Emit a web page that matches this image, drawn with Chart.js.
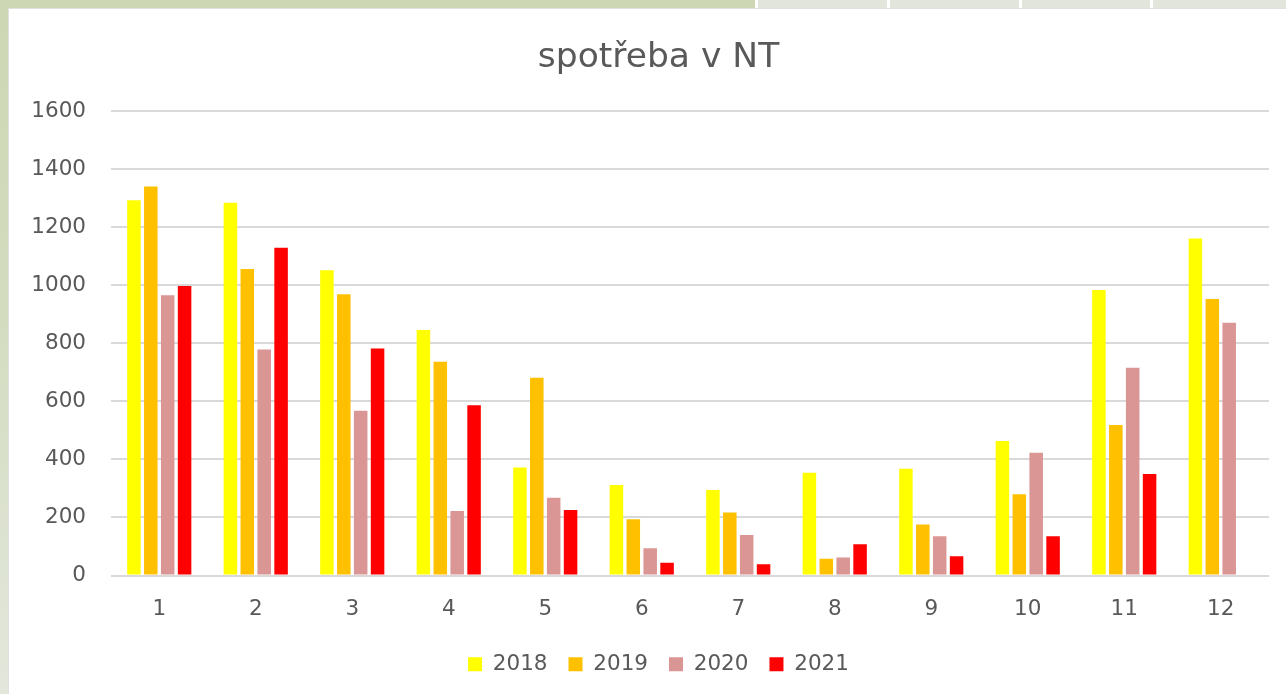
<!DOCTYPE html>
<html>
<head>
<meta charset="utf-8">
<script src="https://cdn.jsdelivr.net/npm/chart.js@4"></script>
<style>
  html, body { margin: 0; padding: 0; width: 1286px; height: 694px; overflow: hidden; background: #ffffff; }
  #leftStrip { position: absolute; left: 0; top: 0; width: 8px; height: 694px;
    background: linear-gradient(to bottom, #cdd7b3 0%, #d3dcbf 45%, #e3e7dc 100%); }
  #topGreen { position: absolute; left: 0; top: 0; width: 755px; height: 8px; background: #cdd7b3; }
  .tab { position: absolute; top: 0; height: 8px; background: #e2e5dc; }
  #panel { position: absolute; left: 8px; top: 8px; width: 1300px; height: 700px; background: #fff;
    border-left: 1px solid #dfe2da; border-top: 1px solid #dfe2da; }
  #wrap { position: absolute; left: 9px; top: 9px; width: 1291px; height: 685px; }
</style>
</head>
<body>
<div id="leftStrip"></div>
<div id="topGreen"></div>
<div class="tab" style="left:758px;width:129px"></div>
<div class="tab" style="left:890px;width:129px"></div>
<div class="tab" style="left:1022px;width:128px"></div>
<div class="tab" style="left:1153px;width:133px"></div>
<div id="panel"></div>
<div id="wrap"><canvas id="c" width="1291" height="685"></canvas></div>
<script>
const months = ['1','2','3','4','5','6','7','8','9','10','11','12'];
const seriesNames = ['2018','2019','2020','2021'];
const v2018 = [1294, 1285, 1052, 846, 372, 312, 295, 354, 368, 464, 984, 1162];
const v2019 = [1341, 1057, 970, 737, 682, 194, 217, 58, 176, 280, 519, 953];
const v2020 = [966, 779, 568, 222, 268, 94, 140, 62, 135, 423, 716, 871];
const v2021 = [998, 1130, 783, 587, 226, 44, 39, 108, 66, 135, 350, null];
const yTicks = [0, 200, 400, 600, 800, 1000, 1200, 1400, 1600];
const colors = ['#FFFF00', '#FFC000', '#DA9694', '#FF0000'];
const titleText = 'spotřeba v NT';

const values = [v2018, v2019, v2020, v2021];
const FONT = "'DejaVu Sans', sans-serif";

new Chart(document.getElementById('c'), {
  type: 'bar',
  data: {
    labels: months,
    datasets: seriesNames.map((n, i) => ({
      label: n,
      data: values[i],
      backgroundColor: colors[i],
      borderWidth: 0,
      categoryPercentage: 0.70,
      barPercentage: 0.80
    }))
  },
  options: {
    responsive: false,
    animation: false,
    devicePixelRatio: 1,
    layout: { padding: { left: 8, right: 0, top: 0, bottom: 9 } },
    plugins: {
      title: {
        display: true,
        text: titleText,
        color: '#595959',
        font: { family: FONT, size: 34.5, weight: 'normal' },
        padding: { top: 28, bottom: 33 }
      },
      legend: {
        position: 'bottom',
        labels: {
          color: '#595959',
          font: { family: FONT, size: 21.5 },
          boxWidth: 14,
          boxHeight: 14,
          padding: 21
        }
      },
      tooltip: { enabled: false }
    },
    scales: {
      x: {
        afterFit: (s) => { s.height = 57; },
        grid: { display: false, drawTicks: false },
        border: { display: false },
        ticks: { color: '#595959', font: { family: FONT, size: 21.5, lineHeight: 0.6 }, padding: 27, maxRotation: 0 }
      },
      y: {
        min: 0,
        max: 1600,
        afterFit: (s) => { s.width = 94; },
        afterBuildTicks: (s) => { s.ticks = yTicks.map(v => ({ value: v })); },
        grid: { color: '#d9d9d9', lineWidth: 2, drawTicks: false },
        border: { display: false },
        ticks: { color: '#595959', font: { family: FONT, size: 21.5 }, padding: 25,
                 callback: (v) => String(v) }
      },
      yRightSpace: {
        position: 'right',
        display: true,
        min: 0,
        max: 1600,
        afterFit: (s) => { s.width = 31; },
        grid: { display: false, drawTicks: false },
        border: { display: false },
        ticks: { display: false }
      }
    }
  }
});
</script>
</body>
</html>
